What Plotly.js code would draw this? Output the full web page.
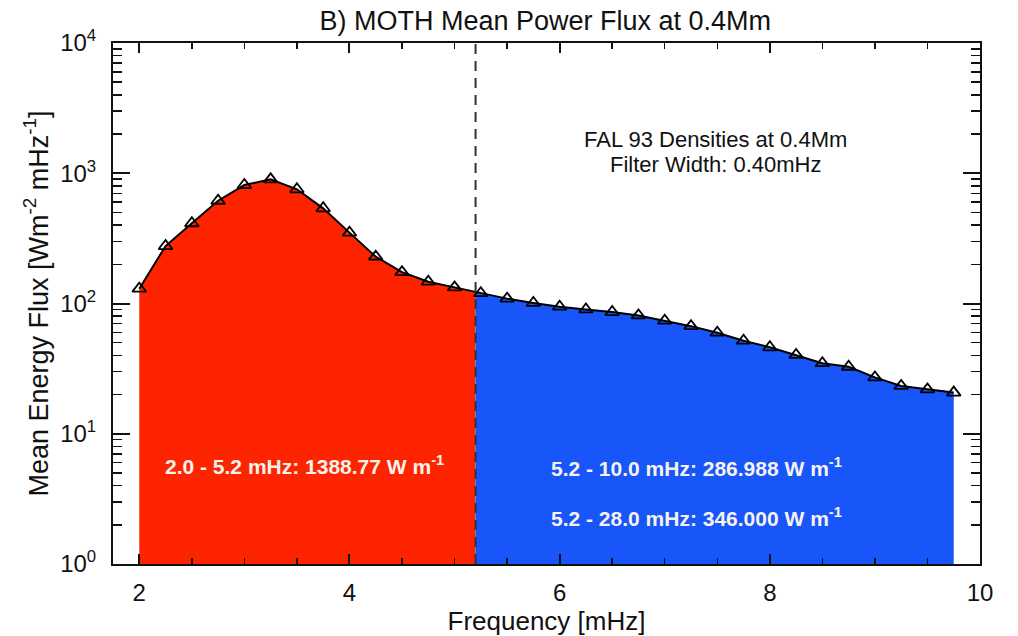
<!DOCTYPE html>
<html>
<head>
<meta charset="utf-8">
<script src="https://cdn.plot.ly/plotly-3.0.1.min.js"></script>
<style>html,body{margin:0;padding:0;background:#fff;}#chart{width:1018px;height:636px;}</style>
</head>
<body>
<div id="chart"></div>
<script>
// Frequency [mHz]
const freq = [2.0, 2.25, 2.5, 2.75, 3.0, 3.25, 3.5, 3.75, 4.0, 4.25, 4.5, 4.75, 5.0,
              5.25, 5.5, 5.75, 6.0, 6.25, 6.5, 6.75, 7.0, 7.25, 7.5, 7.75, 8.0,
              8.25, 8.5, 8.75, 9.0, 9.25, 9.5, 9.75];
// Mean energy flux [W m^-2 mHz^-1]
const flux = [130, 276, 413, 615, 812, 898, 753, 538, 350, 229, 174, 147, 133,
              120, 109, 101, 94.5, 90, 86, 81, 73.8, 67, 59.7, 51.8, 46.1,
              40.3, 34.8, 32.7, 27.1, 23.3, 21.9, 20.7];
const splitFreq = 5.2;
const xTickVals = [2, 4, 6, 8, 10];
const yTickVals = [1, 10, 100, 1000, 10000];
const yTickText = ['10<sup>0</sup>', '10<sup>1</sup>', '10<sup>2</sup>', '10<sup>3</sup>', '10<sup>4</sup>'];
const bandLabels = [
  '2.0 - 5.2 mHz: 1388.77 W m<sup>-1</sup>',
  '5.2 - 10.0 mHz: 286.988 W m<sup>-1</sup>',
  '5.2 - 28.0 mHz: 346.000 W m<sup>-1</sup>'
];
const infoLines = ['FAL 93 Densities at 0.4Mm', 'Filter Width: 0.40mHz'];

// value of the curve at the split frequency (log interpolation between neighbours)
function fluxAt(f) {
  for (let i = 0; i < freq.length - 1; i++) {
    if (f >= freq[i] && f <= freq[i + 1]) {
      const t = (f - freq[i]) / (freq[i + 1] - freq[i]);
      return Math.pow(10, Math.log10(flux[i]) * (1 - t) + Math.log10(flux[i + 1]) * t);
    }
  }
  return flux[flux.length - 1];
}
const ySplit = fluxAt(splitFreq);
const base = 1;

const lowX = [], lowY = [], highX = [splitFreq], highY = [ySplit];
freq.forEach((f, i) => {
  if (f <= splitFreq) { lowX.push(f); lowY.push(flux[i]); }
  else { highX.push(f); highY.push(flux[i]); }
});
lowX.push(splitFreq, splitFreq, freq[0]);
lowY.push(ySplit, base, base);
const lastF = highX[highX.length - 1];
highX.push(lastF, splitFreq);
highY.push(base, base);

const minorY = [];
for (let d = 0; d < 4; d++) for (let m = 2; m <= 9; m++) minorY.push(m * Math.pow(10, d));

const FONT = 'Liberation Sans, Arial, sans-serif';
const traces = [
  {x: lowX, y: lowY, type: 'scatter', mode: 'lines', fill: 'toself',
   fillcolor: '#FF2400', line: {width: 0, color: '#FF2400'}, hoverinfo: 'skip', showlegend: false},
  {x: highX, y: highY, type: 'scatter', mode: 'lines', fill: 'toself',
   fillcolor: '#1856FA', line: {width: 0, color: '#1856FA'}, hoverinfo: 'skip', showlegend: false},
  {x: freq, y: flux, type: 'scatter', mode: 'lines+markers',
   line: {color: '#000', width: 2},
   marker: {symbol: 'triangle-up-open', size: 12, color: '#000', line: {width: 1.8, color: '#000'}},
   showlegend: false}
];

const whiteFont = {family: FONT, size: 21, color: '#F6F3EE', weight: 'bold'};
const annots = [
  {xref: 'paper', yref: 'paper', x: 0.0577, y: 0.190, xanchor: 'left', yanchor: 'middle',
   text: bandLabels[0], showarrow: false, font: whiteFont},
  {xref: 'paper', yref: 'paper', x: 0.503, y: 0.186, xanchor: 'left', yanchor: 'middle',
   text: bandLabels[1], showarrow: false, font: whiteFont},
  {xref: 'paper', yref: 'paper', x: 0.503, y: 0.090, xanchor: 'left', yanchor: 'middle',
   text: bandLabels[2], showarrow: false, font: whiteFont},
  {xref: 'paper', yref: 'paper', x: 0.6955, y: 0.814, xanchor: 'center', yanchor: 'middle',
   text: infoLines[0], showarrow: false, font: {family: FONT, size: 22, color: '#111'}},
  {xref: 'paper', yref: 'paper', x: 0.6955, y: 0.766, xanchor: 'center', yanchor: 'middle',
   text: infoLines[1], showarrow: false, font: {family: FONT, size: 22, color: '#111'}}
];

const layout = {
  width: 1018, height: 636,
  margin: {l: 113, r: 38, t: 43, b: 72, pad: 0},
  paper_bgcolor: '#fff', plot_bgcolor: '#fff',
  font: {family: FONT, color: '#111', size: 24},
  title: {text: 'B) MOTH Mean Power Flux at 0.4Mm', font: {family: FONT, size: 27, color: '#111'},
          x: 0.5356, xanchor: 'center', y: 0.967, yanchor: 'middle', xref: 'container', yref: 'container'},
  xaxis: {
    range: [1.75, 10], tickmode: 'array', tickvals: xTickVals, ticktext: xTickVals.map(String),
    ticks: 'inside', ticklen: 10, tickwidth: 2, tickcolor: '#111',
    showline: true, linewidth: 2, linecolor: '#111', mirror: 'ticks',
    showgrid: false, zeroline: false,
    tickfont: {family: FONT, size: 24, color: '#111'},
    ticklabelstandoff: 6,
    minor: {dtick: 0.5, tick0: 0, ticks: 'inside', ticklen: 6, tickwidth: 1.5, tickcolor: '#111', showgrid: false},
    title: {text: 'Frequency [mHz]', font: {family: FONT, size: 26, color: '#111'}, standoff: 0}
  },
  yaxis: {
    type: 'log', range: [0, 4], tickmode: 'array', tickvals: yTickVals, ticktext: yTickText,
    ticks: 'inside', ticklen: 17, tickwidth: 2, tickcolor: '#111',
    showline: true, linewidth: 2, linecolor: '#111', mirror: 'ticks',
    showgrid: false, zeroline: false,
    tickfont: {family: FONT, size: 24, color: '#111'},
    ticklabelstandoff: 10,
    minor: {tickmode: 'array', tickvals: minorY, ticks: 'inside', ticklen: 9, tickwidth: 1.5, tickcolor: '#111', showgrid: false},
    title: {text: 'Mean Energy Flux [Wm<sup>-2</sup> mHz<sup>-1</sup>]', font: {family: FONT, size: 27, color: '#111'}, standoff: 4}
  },
  shapes: [
    {type: 'line', xref: 'x', yref: 'paper', x0: splitFreq, x1: splitFreq, y0: 0, y1: 1,
     line: {color: '#333', width: 2, dash: '10px,7px'}, layer: 'above'}
  ],
  annotations: annots
};

Plotly.newPlot('chart', traces, layout, {displayModeBar: false, staticPlot: true});
</script>
</body>
</html>
